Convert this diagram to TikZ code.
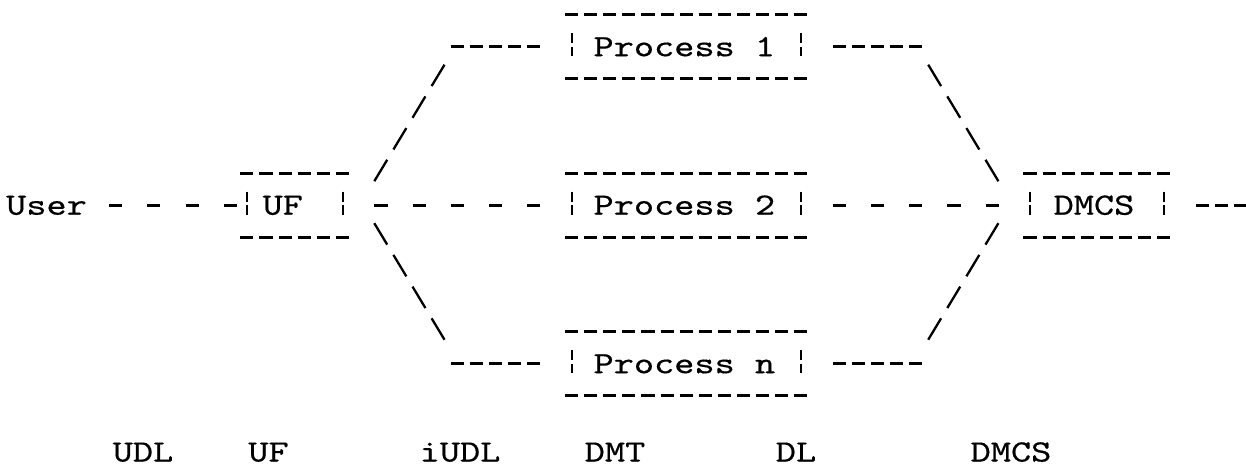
\documentclass[tikz,border=0pt]{standalone}
\usepackage{fontspec}
\usepackage{graphicx}
\usetikzlibrary{calc}
\newfontfamily\asciitt{lmmono10-regular.otf}[FakeBold=0.45]
\newcommand{\mt}[1]{\scalebox{1.24}[1]{#1}}
\tikzset{
  tt/.style={font=\asciitt\fontsize{31pt}{32pt}\selectfont, text height=19pt, text depth=0pt, inner sep=0pt},
  abox/.style={tt, minimum height=63.4pt, draw=none},
  word/.style={tt, minimum height=19pt},
  tight/.style={line width=2.8pt, dash pattern=on 13.1pt off 6pt},
  spaced/.style={line width=2.8pt, dash pattern=on 13.1pt off 25.1pt},
  slash/.style={line width=2.3pt, dash pattern=on 25pt off 12.01pt},
  vbar/.style={line width=2pt, dash pattern=on 10pt off 3.5pt},
}
\newcommand{\asciibox}[1]{%
  \draw[tight] ([xshift=3pt]#1.north west) -- ([xshift=-3pt]#1.north east);
  \draw[tight] ([xshift=3pt]#1.south west) -- ([xshift=-3pt]#1.south east);
  \draw[vbar] ([xshift=9.55pt,yshift=13.5pt]#1.west) -- ([xshift=9.55pt,yshift=-9.5pt]#1.west);
  \draw[vbar] ([xshift=-9.55pt,yshift=13.5pt]#1.east) -- ([xshift=-9.55pt,yshift=-9.5pt]#1.east);
}
\begin{document}
\begin{tikzpicture}[x=1pt,y=-1pt]
\useasboundingbox (0,0) rectangle (1246,467);
\fill[white] (0,0) rectangle (1246,467);

% nodes
\node[word, minimum width=76.4pt] (user) at (46.5,205.2) {\mt{User}};
\node[abox, minimum width=114.6pt] (uf) at (294.8,205.2) {\mt{UF}\hspace*{24pt}};
\node[abox, minimum width=248.3pt] (p1) at (686.35,46.7) {\mt{Process 1}\hspace*{4pt}};
\node[abox, minimum width=248.3pt] (p2) at (686.35,205.2) {\mt{Process 2}\hspace*{4pt}};
\node[abox, minimum width=248.3pt] (pn) at (686.35,363.7) {\mt{Process n}\hspace*{4pt}};
\node[abox, minimum width=152.8pt] (dmcs) at (1097,205.2) {\mt{DMCS}\hspace*{6pt}};

\asciibox{uf}
\asciibox{p1}
\asciibox{p2}
\asciibox{pn}
\asciibox{dmcs}

% labels
\node[word] (ludl) at (143,452) {\mt{UDL}};
\node[word] (luf) at (268.5,452) {\mt{UF}};
\node[word] (liudl) at (460,452) {\mt{iUDL}};
\node[word] (ldmt) at (615,452) {\mt{DMT}};
\node[word] (ldl) at (796,452) {\mt{DL}};
\node[word] (ldmcs) at (1011,452) {\mt{DMCS}};

% coordinates
\coordinate (outR) at (1246,205.2);
\coordinate (h1) at (450.6,46.7);
\coordinate (h2) at (922.1,46.7);
\coordinate (h3) at (450.6,363.7);
\coordinate (h4) at (922.1,363.7);
\coordinate (ula) at (380.75,170.5);
\coordinate (ulb) at (438.05,75.4);
\coordinate (lla) at (380.75,233.9);
\coordinate (llb) at (438.05,329);
\coordinate (ura) at (934.65,75.4);
\coordinate (urb) at (991.95,170.5);
\coordinate (lra) at (991.95,233.9);
\coordinate (lrb) at (934.65,329);

% main line
\draw[spaced, shorten <=22.1pt] (user.east) -- (uf.west);
\draw[spaced, shorten <=22.1pt] (uf.east) -- (p2.west);
\draw[spaced, shorten <=22.1pt] (p2.east) -- (dmcs.west);
\draw[tight, shorten <=22.1pt] (dmcs.east) -- (outR);

% branches
\draw[slash] ($(ula)!-12.5pt!(ulb)$) -- ($(ulb)!-12.5pt!(ula)$);
\draw[tight, shorten >=22.1pt] (h1) -- (p1.west);
\draw[tight, shorten <=22.1pt] (p1.east) -- (h2);
\draw[slash] ($(ura)!-12.5pt!(urb)$) -- ($(urb)!-12.5pt!(ura)$);

\draw[slash] ($(lla)!-12.5pt!(llb)$) -- ($(llb)!-12.5pt!(lla)$);
\draw[tight, shorten >=22.1pt] (h3) -- (pn.west);
\draw[tight, shorten <=22.1pt] (pn.east) -- (h4);
\draw[slash] ($(lra)!-12.5pt!(lrb)$) -- ($(lrb)!-12.5pt!(lra)$);
\end{tikzpicture}
\end{document}
